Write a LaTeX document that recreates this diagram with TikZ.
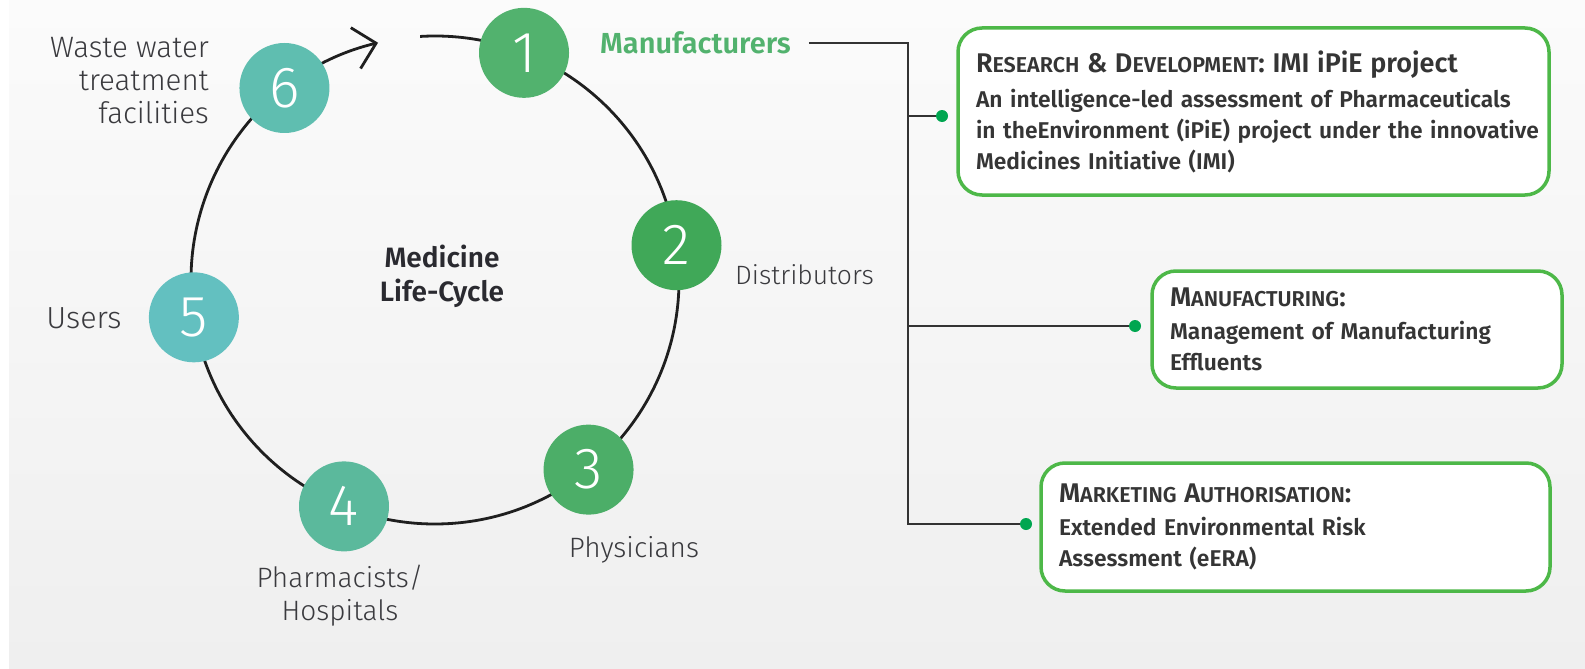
\documentclass[tikz,border=0pt]{standalone}
\usepackage{fontspec}
\setmainfont{Fira Sans}
\newfontfamily\lightfont{Fira Sans Light}
\newfontfamily\semifont{Fira Sans SemiBold}
\usetikzlibrary{arrows.meta,calc}
\definecolor{bgtop}{HTML}{FBFBFB}
\definecolor{bgbot}{HTML}{EFEFEF}
\definecolor{cone}{HTML}{52B26E}
\definecolor{ctwo}{HTML}{40A858}
\definecolor{cthree}{HTML}{4CAE68}
\definecolor{cfour}{HTML}{5BB99C}
\definecolor{cfive}{HTML}{63C0C0}
\definecolor{csix}{HTML}{5FBEB0}
\definecolor{labelgray}{HTML}{3A3A3E}
\definecolor{titledark}{HTML}{2A2A30}
\definecolor{manugreen}{HTML}{52B26E}
\definecolor{boxgreen}{HTML}{4DB848}
\definecolor{dotgreen}{HTML}{00A650}
\definecolor{conngray}{HTML}{333333}
\definecolor{boxtext}{HTML}{353535}
\newcommand\smc[1]{{\fontsize{21.5}{21.5}\selectfont #1}}
\begin{document}
\begin{tikzpicture}[x=1pt,y=-1pt,
  lbl/.style={font=\lightfont\fontsize{28}{33}\selectfont, text=labelgray, inner sep=0pt},
  num/.style={circle, minimum size=90pt, inner sep=0pt, font=\lightfont\fontsize{58}{58}\selectfont, text=white},
  ring/.style={draw=black!88, line width=2.8pt},
  boxnode/.style={draw=boxgreen, line width=3.5pt, fill=white, rounded corners=24pt, inner xsep=18pt, align=left, text=boxtext, font=\semifont\fontsize{22.8}{31}\selectfont},
  conn/.style={draw=conngray, line width=1.6pt},
  dotnode/.style={circle, fill=dotgreen, inner sep=0pt, minimum size=12pt}
]
\useasboundingbox (0,0) rectangle (1585,669);
\fill[top color=bgtop, bottom color=bgbot] (9,0) rectangle (1585,669);

\coordinate (C) at (435,280);
\draw[ring, -{Straight Barb[length=21pt,width=42pt]}] ($(C)+(-93.5:244)$) arc[start angle=-93.5, end angle=256.5, radius=244];

\node[num, fill=cone]   (n1) at ($(C)+(-68.6:244)$) {1};
\node[num, fill=ctwo]   (n2) at ($(C)+(-8.2:244)$) {2};
\node[num, fill=cthree] (n3) at ($(C)+(51:244)$) {3};
\node[num, fill=cfour]  (n4) at ($(C)+(111.9:244)$) {4};
\node[num, fill=cfive]  (n5) at ($(C)+(171.2:244)$) {5};
\node[num, fill=csix]   (n6) at ($(C)+(-128.1:244)$) {6};

\node[lbl, font=\lightfont\fontsize{29.5}{33}\selectfont, align=right, anchor=east] (wwt) at (209,81) {Waste water\\treatment\\facilities};
\node[lbl, font=\lightfont\fontsize{30.5}{33}\selectfont] (users) at (84,318) {Users};
\node[lbl, font=\lightfont\fontsize{26.5}{33}\selectfont, anchor=west] (dist) at (735,275) {Distributors};
\node[lbl] (phys) at (634,550) {Physicians};
\node[lbl, align=center] (pharm) at (340,596) {Pharmacists/\\Hospitals};
\node[font=\semifont\fontsize{28}{34}\selectfont, align=center, text=titledark] (mlc) at (442,276) {Medicine\\Life-Cycle};

\node[font=\semifont\fontsize{29}{29}\selectfont, text=manugreen, anchor=west, inner sep=0pt] (manu) at (600,43) {Manufacturers};

\node[boxnode, minimum width=591pt, minimum height=167pt, text width=555pt] (b1) at (1253.5,111.5)
 {\mbox{\fontsize{27}{31}\selectfont R\smc{ESEARCH} \& D\smc{EVELOPMENT}: IMI iPiE project}\\[4pt]
  \mbox{An intelligence-led assessment of Pharmaceuticals}\\
  \mbox{in theEnvironment (iPiE) project under the innovative}\\
  \mbox{Medicines Initiative (IMI)}};
\node[boxnode, minimum width=410pt, minimum height=117pt, text width=374pt] (b2) at (1357,329.5)
 {\mbox{\fontsize{27}{31}\selectfont M\smc{ANUFACTURING}:}\\[2pt]
  \mbox{Management of Manufacturing}\\
  \mbox{Effluents}};
\node[boxnode, minimum width=509pt, minimum height=128pt, text width=473pt] (b3) at (1295.5,527)
 {\mbox{\fontsize{27}{31}\selectfont M\smc{ARKETING} A\smc{UTHORISATION}:}\\[2pt]
  \mbox{Extended Environmental Risk}\\
  \mbox{Assessment (eERA)}};

\coordinate (trunk) at (908,43);
\coordinate (d1) at (942,116);
\coordinate (d2) at (1135,326);
\coordinate (d3) at (1026,524);
\draw[conn, shorten <=18pt] (manu.east) -- (trunk) |- (d3);
\draw[conn] (trunk |- d1) -- (d1);
\draw[conn] (trunk |- d2) -- (d2);
\node[dotnode] (dot1) at (d1) {};
\node[dotnode] (dot2) at (d2) {};
\node[dotnode] (dot3) at (d3) {};
\end{tikzpicture}
\end{document}
